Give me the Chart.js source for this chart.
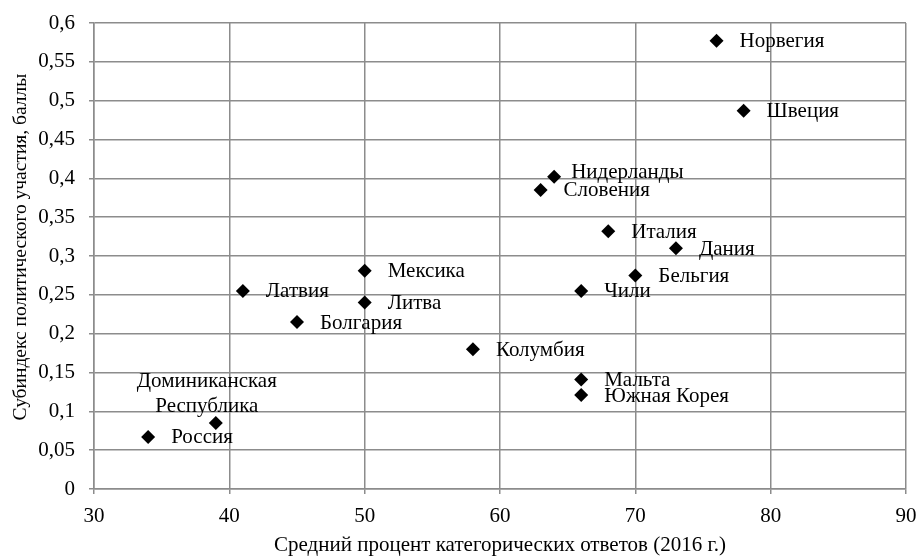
<!DOCTYPE html>
<html>
<head>
<meta charset="utf-8">
<script src="https://cdn.jsdelivr.net/npm/chart.js@4"></script>
<style>
html,body{margin:0;padding:0;background:#fff;}
#wrap{width:919px;height:558px;}
</style>
</head>
<body>
<div id="wrap"><canvas id="c" width="919" height="558"></canvas></div>
<script>
const countries = ["Норвегия","Швеция","Нидерланды","Словения","Италия","Дания","Бельгия","Чили","Мексика","Латвия","Литва","Болгария","Колумбия","Мальта","Южная Корея","Доминиканская Республика","Россия"];
const xValues = [76, 78, 64, 63, 68, 73, 70, 66, 50, 41, 50, 45, 58, 66, 66, 39, 34];
const yValues = [0.577, 0.487, 0.402, 0.385, 0.332, 0.31, 0.275, 0.255, 0.281, 0.255, 0.24, 0.215, 0.18, 0.141, 0.121, 0.085, 0.067];
const xTitle = "Средний процент категорических ответов (2016 г.)";
const yTitle = "Субиндекс политического участия, баллы";

// label placement (pixels relative to point)
const labelOffsets = {
  "Нидерланды": {dx: 17, dy: -4},
  "Доминиканская Республика": {dx: -9, dy: -41, lines: ["Доминиканская", "Республика"], lineGap: 25, align: "center"}
};
const FONT = "'Liberation Serif', 'Times New Roman', serif";
const TICK_FS = 21;
const LABEL_FS = 21;
const XTITLE_FS = 21;
const YTITLE_FS = 19.5;
const GRID = "#8c8c8c";

const labelPlugin = {
  id: 'pointLabels',
  afterDatasetsDraw(chart) {
    const ctx = chart.ctx;
    const meta = chart.getDatasetMeta(0);
    ctx.save();
    ctx.fillStyle = "#000";
    ctx.font = LABEL_FS + "px " + FONT;
    ctx.textBaseline = "middle";
    meta.data.forEach((pt, i) => {
      const name = countries[i];
      const o = labelOffsets[name] || {dx: 23, dy: 1};
      ctx.textAlign = o.align || "left";
      if (o.lines) {
        o.lines.forEach((ln, k) => ctx.fillText(ln, pt.x + o.dx, pt.y + o.dy + k * o.lineGap));
      } else {
        ctx.fillText(name, pt.x + o.dx, pt.y + o.dy);
      }
    });
    // y-axis title
    const ca = chart.chartArea;
    ctx.font = YTITLE_FS + "px " + FONT;
    ctx.textAlign = "center";
    ctx.translate(21, (ca.top + ca.bottom) / 2 - 9);
    ctx.rotate(-Math.PI / 2);
    ctx.fillText(yTitle, 0, 0);
    ctx.restore();
  }
};

const fmt = v => Number(v.toFixed(2)).toString().replace('.', ',');
const noPad = s => { s.paddingLeft = 0; s.paddingRight = 0; s.paddingTop = 0; s.paddingBottom = 0; };

new Chart(document.getElementById('c'), {
  type: 'scatter',
  data: {
    datasets: [{
      data: xValues.map((x, i) => ({x: x, y: yValues[i]})),
      pointStyle: 'rectRot',
      pointRadius: 7,
      pointHoverRadius: 7,
      backgroundColor: '#000',
      borderColor: '#000',
      borderWidth: 0
    }]
  },
  options: {
    responsive: false,
    animation: false,
    events: [],
    layout: {padding: {left: 0, right: 13, top: 23, bottom: 0}},
    plugins: {legend: {display: false}, tooltip: {enabled: false}},
    scales: {
      x: {
        type: 'linear', min: 30, max: 90,
        afterFit(s) { s.height = 69; noPad(s); },
        ticks: {stepSize: 10, color: '#000', font: {family: FONT, size: TICK_FS}, padding: 10},
        grid: {color: GRID, lineWidth: 1.5, tickLength: 5, tickColor: GRID},
        border: {color: GRID, width: 1.5},
        title: {display: true, text: xTitle, color: '#000', font: {family: FONT, size: XTITLE_FS}, padding: {top: 0, bottom: 0}}
      },
      y: {
        type: 'linear', min: 0, max: 0.6,
        afterFit(s) { s.width = 94; noPad(s); },
        ticks: {stepSize: 0.05, color: '#000', font: {family: FONT, size: TICK_FS}, padding: 14, callback: v => fmt(v)},
        grid: {color: GRID, lineWidth: 1.5, tickLength: 5, tickColor: GRID},
        border: {color: GRID, width: 1.5},
        title: {display: false}
      }
    }
  },
  plugins: [labelPlugin]
});
</script>
</body>
</html>
